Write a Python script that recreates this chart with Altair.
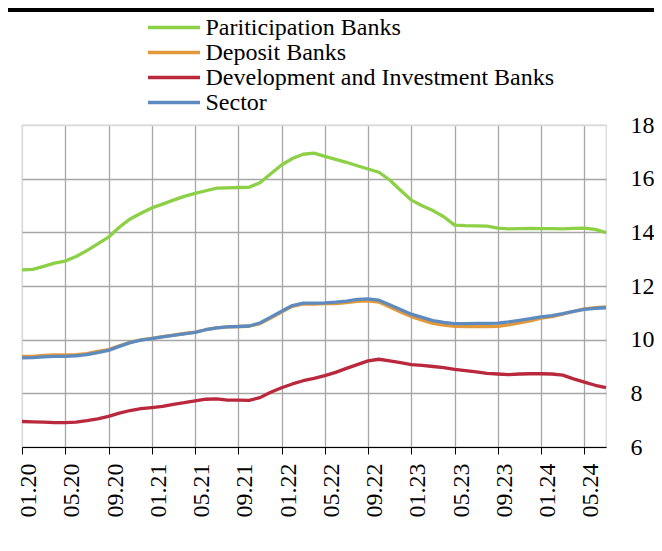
import altair as alt
import pandas as pd

tick_labels = ["01.20", "05.20", "09.20", "01.21", "05.21", "09.21", "01.22",
               "05.22", "09.22", "01.23", "05.23", "09.23", "01.24", "05.24"]

series_names = ["Pariticipation Banks", "Deposit Banks",
                "Development and Investment Banks", "Sector"]
colors = ["#8cd046", "#e3993a", "#b9283d", "#5d8bbf"]

participation = [12.60, 12.62, 12.73, 12.85, 12.93, 13.10, 13.32, 13.57, 13.82, 14.19,
                 14.50, 14.71, 14.91, 15.05, 15.20, 15.34, 15.45, 15.55, 15.65, 15.66,
                 15.67, 15.68, 15.85, 16.18, 16.51, 16.75, 16.91, 16.95, 16.83, 16.72,
                 16.61, 16.48, 16.36, 16.24, 15.95, 15.57, 15.20, 14.99, 14.81, 14.58,
                 14.27, 14.25, 14.24, 14.23, 14.16, 14.13, 14.14, 14.15, 14.14, 14.14,
                 14.13, 14.15, 14.16, 14.11, 13.99]
deposit = [9.38, 9.38, 9.41, 9.43, 9.43, 9.44, 9.48, 9.56, 9.63, 9.77,
           9.90, 9.99, 10.05, 10.11, 10.17, 10.23, 10.28, 10.37, 10.44, 10.48,
           10.49, 10.50, 10.60, 10.81, 11.03, 11.24, 11.33, 11.33, 11.34, 11.34,
           11.38, 11.43, 11.45, 11.40, 11.22, 11.03, 10.86, 10.73, 10.61, 10.54,
           10.50, 10.49, 10.49, 10.49, 10.50, 10.55, 10.63, 10.70, 10.80, 10.86,
           10.95, 11.05, 11.15, 11.19, 11.22]
development = [6.95, 6.94, 6.93, 6.91, 6.91, 6.93, 6.98, 7.05, 7.14, 7.26,
               7.36, 7.43, 7.47, 7.51, 7.59, 7.65, 7.72, 7.78, 7.79, 7.75,
               7.75, 7.74, 7.84, 8.04, 8.21, 8.35, 8.47, 8.56, 8.66, 8.78,
               8.93, 9.07, 9.21, 9.27, 9.21, 9.14, 9.07, 9.04, 9.00, 8.96,
               8.89, 8.85, 8.80, 8.74, 8.72, 8.70, 8.72, 8.73, 8.73, 8.72,
               8.68, 8.54, 8.42, 8.30, 8.21]
sector = [9.32, 9.33, 9.36, 9.38, 9.38, 9.40, 9.44, 9.52, 9.60, 9.75,
          9.89, 9.98, 10.04, 10.10, 10.16, 10.22, 10.27, 10.37, 10.44, 10.48,
          10.49, 10.51, 10.62, 10.84, 11.06, 11.27, 11.36, 11.36, 11.37, 11.40,
          11.44, 11.50, 11.52, 11.47, 11.30, 11.12, 10.95, 10.83, 10.71, 10.64,
          10.60, 10.60, 10.61, 10.61, 10.62, 10.66, 10.72, 10.78, 10.85, 10.90,
          10.97, 11.05, 11.13, 11.17, 11.19]

rows = []
for name, vals in zip(series_names, [participation, deposit, development, sector]):
    for i, v in enumerate(vals):
        rows.append({"month": i, "series": name, "value": v})
df = pd.DataFrame(rows)

n_months = len(sector) - 1
tick_vals = [i * 4 for i in range(len(tick_labels))]
label_expr = "[" + ",".join("'%s'" % t for t in tick_labels) + "][round(datum.value / 4)]"

FONT = "Liberation Serif"

lines = alt.Chart(df).mark_line(strokeWidth=3.3, strokeJoin="round").encode(
    x=alt.X("month:Q",
            scale=alt.Scale(domain=[0, n_months], nice=False, zero=False),
            axis=alt.Axis(values=tick_vals, labelExpr=label_expr, labelAngle=-90,
                          labelAlign="right", labelBaseline="middle", labelOffset=6.5,
                          labelPadding=9, tickSize=7, tickColor="#000000", tickWidth=1,
                          domainColor="#000000", domainWidth=1.2,
                          grid=True,
                          gridColor={"condition": {"test": "datum.value === 0", "value": "#d9d9d9"},
                                     "value": "#a6a6a6"},
                          gridWidth=1.3,
                          labelFont=FONT, labelFontSize=24, labelColor="#000000",
                          title=None)),
    y=alt.Y("value:Q",
            scale=alt.Scale(domain=[6, 18], nice=False, zero=False),
            axis=alt.Axis(orient="right", values=[6, 8, 10, 12, 14, 16, 18],
                          ticks=False, tickSize=0, domain=False, labelPadding=24,
                          grid=True,
                          gridColor={"condition": {"test": "datum.value === 18", "value": "#d9d9d9"},
                                     "value": "#a6a6a6"},
                          gridWidth=1.3,
                          labelFont=FONT, labelFontSize=24, labelColor="#000000",
                          labelBaseline="middle", title=None)),
    color=alt.Color("series:N",
                    scale=alt.Scale(domain=series_names, range=colors),
                    legend=alt.Legend(orient="none", legendX=124, legendY=-110,
                                      direction="vertical", title=None,
                                      symbolType="M-2.5,0H2.5", symbolSize=433,
                                      symbolStrokeWidth=3.5, symbolOffset=15.5,
                                      labelFont=FONT,
                                      labelFontSize=24, labelColor="#000000",
                                      labelOffset=19, labelLimit=600, rowPadding=0,
                                      padding=0)),
)

top_rule = alt.Chart(pd.DataFrame({"a": [0]})).mark_rule(color="#000000", strokeWidth=4).encode(
    x=alt.value(-14), x2=alt.value(632), y=alt.value(-115)
)

chart = alt.layer(lines, top_rule).properties(
    width=584, height=322,
    padding={"left": 14, "top": 117, "right": 48, "bottom": 96},
    autosize=alt.AutoSizeParams(type="none"),
    background="#ffffff",
).configure_view(stroke="#d9d9d9", strokeWidth=1.3)

chart.save("out.html", embed_options={"renderer": "svg", "actions": False})
